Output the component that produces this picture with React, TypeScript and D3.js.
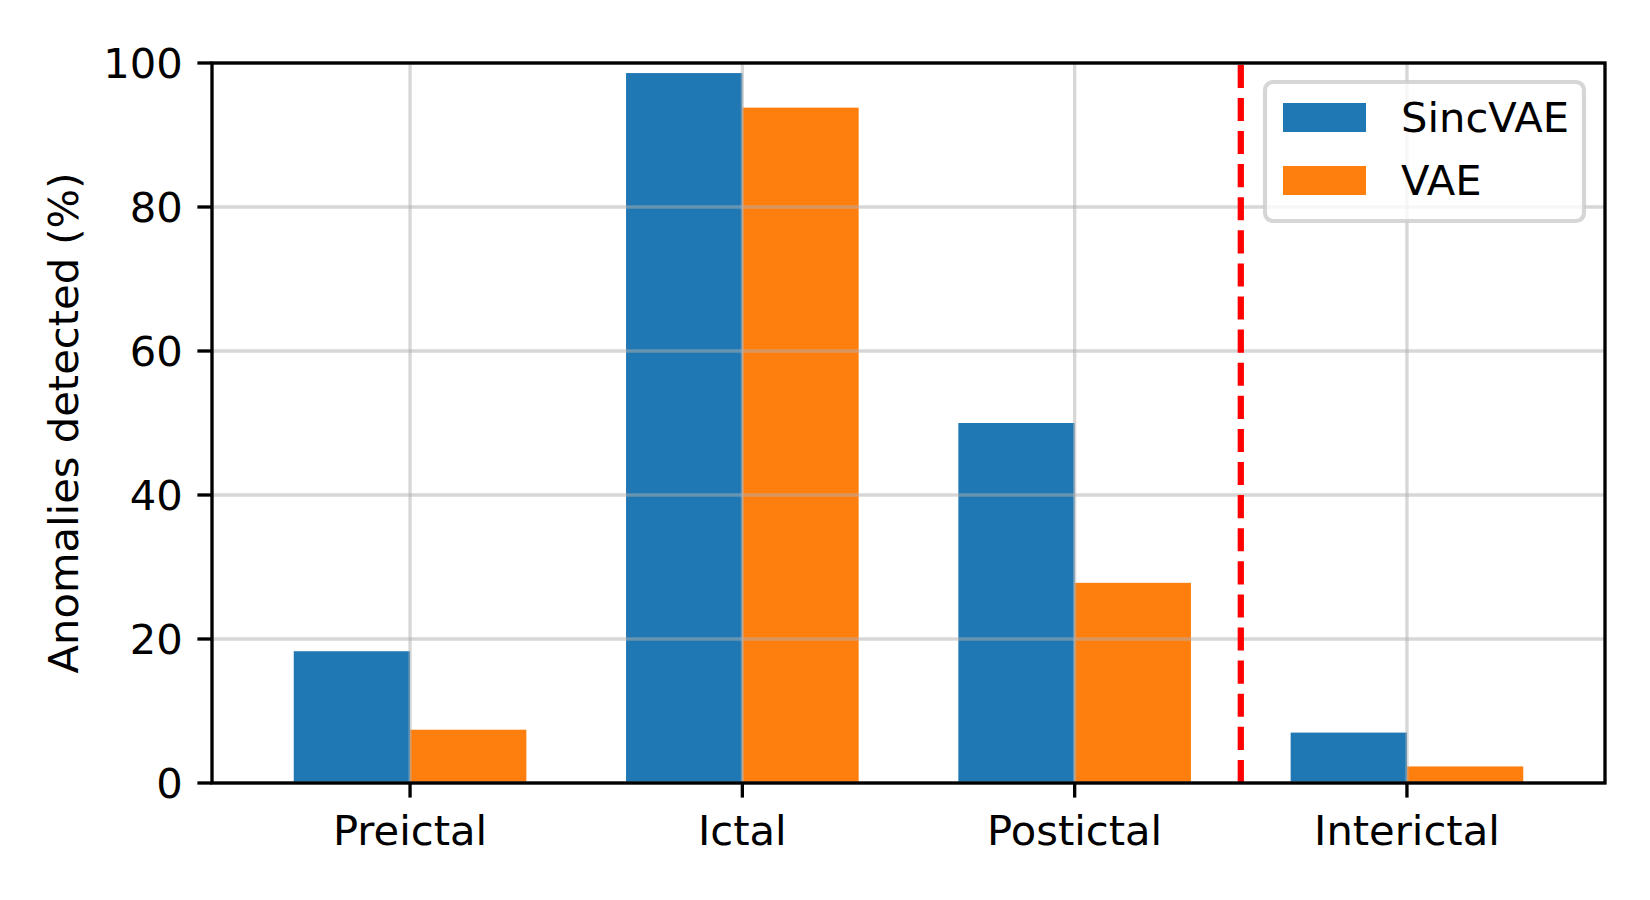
import * as d3 from "d3"

const categories = ["Preictal", "Ictal", "Postictal", "Interictal"]
const sincVae = [18.3, 98.6, 50.0, 7.0]
const vae = [7.4, 93.8, 27.8, 2.3]
const yTicks = [0, 20, 40, 60, 80, 100]
const seriesNames = ["SincVAE", "VAE"]
const seriesColors = ["#1f77b4", "#ff7f0e"]
const splitAt = 2.5

const width = 1650
const height = 900
const marginLeft = 212
const marginRight = 45
const marginTop = 63
const marginBottom = 117
const fontSize = 41.67
const barWidth = 0.35
const lw = 3.33

export default function App() {
  const x = d3
    .scaleLinear()
    .domain([-0.596, categories.length - 1 + 0.596])
    .range([marginLeft, width - marginRight])
  const y = d3
    .scaleLinear()
    .domain([0, 100])
    .range([height - marginBottom, marginTop])

  const series = [sincVae, vae]
  const x0 = x.range()[0]
  const x1 = x.range()[1]
  const y0 = y.range()[0]
  const y1 = y.range()[1]
  const bw = x(barWidth) - x(0)
  const tickLen = 14.6

  return (
    <div style={{ position: "absolute", left: 0, top: 0 }}>
      <svg
        width={width}
        height={height}
        style={{ display: "block", background: "white" }}
        fontFamily="DejaVu Sans, sans-serif"
        fontSize={fontSize}
      >
        {/* bars */}
        {series.map((values, s) =>
          values.map((v, i) => {
            const left = s === 0 ? x(i) - bw : x(i)
            return (
              <rect
                key={`${s}-${i}`}
                x={left}
                y={y(v)}
                width={bw}
                height={y(0) - y(v)}
                fill={seriesColors[s]}
              />
            )
          })
        )}

        {/* grid */}
        <g stroke="#b0b0b0" strokeOpacity={0.5} strokeWidth={lw}>
          {yTicks.map((t) => (
            <line key={t} x1={x0} x2={x1} y1={y(t)} y2={y(t)} />
          ))}
          {categories.map((c, i) => (
            <line key={c} x1={x(i)} x2={x(i)} y1={y0} y2={y1} />
          ))}
        </g>

        {/* split line */}
        <line
          x1={x(splitAt)}
          x2={x(splitAt)}
          y1={y0}
          y2={y1}
          stroke="#ff0000"
          strokeWidth={6.25}
          strokeDasharray="23.1 10"
        />

        {/* spines */}
        <rect
          x={x0}
          y={y1}
          width={x1 - x0}
          height={y0 - y1}
          fill="none"
          stroke="black"
          strokeWidth={lw}
        />

        {/* y axis */}
        {yTicks.map((t) => (
          <g key={t}>
            <line
              x1={x0 - tickLen}
              x2={x0}
              y1={y(t)}
              y2={y(t)}
              stroke="black"
              strokeWidth={lw}
            />
            <text x={x0 - tickLen - 14.6} y={y(t) + 15} textAnchor="end">
              {t}
            </text>
          </g>
        ))}
        <text
          transform={`translate(78,${(y0 + y1) / 2}) rotate(-90)`}
          textAnchor="middle"
        >
          Anomalies detected (%)
        </text>

        {/* x axis */}
        {categories.map((c, i) => (
          <g key={c}>
            <line
              x1={x(i)}
              x2={x(i)}
              y1={y0}
              y2={y0 + tickLen}
              stroke="black"
              strokeWidth={lw}
            />
            <text x={x(i)} y={y0 + 62} textAnchor="middle">
              {c}
            </text>
          </g>
        ))}

        {/* legend */}
        <g>
          <rect
            x={1265}
            y={82}
            width={319}
            height={139}
            rx={8}
            fill="white"
            fillOpacity={0.8}
            stroke="#cccccc"
            strokeOpacity={0.8}
            strokeWidth={4.17}
          />
          {seriesNames.map((name, s) => (
            <g key={name} transform={`translate(1283,${103 + s * 63})`}>
              <rect width={83} height={29} fill={seriesColors[s]} />
              <text x={118} y={28.5}>
                {name}
              </text>
            </g>
          ))}
        </g>
      </svg>
    </div>
  )
}
